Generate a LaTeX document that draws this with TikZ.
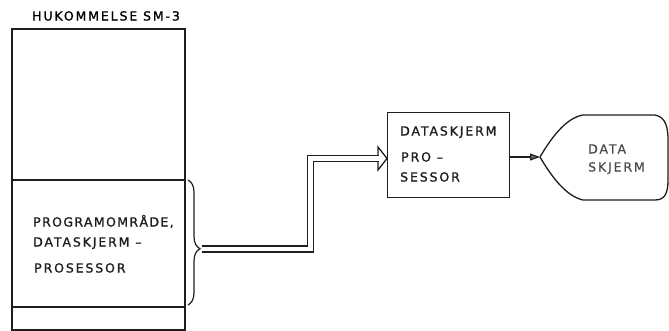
\documentclass[tikz,border=0pt]{standalone}
\usepackage{fontspec}
\newfontfamily\lblfont[LetterSpace=15,FakeBold=1.2]{DejaVu Sans}
\newfontfamily\lblnarrow[LetterSpace=11,FakeBold=1.2]{DejaVu Sans}
\newfontfamily\lbllight[LetterSpace=15,FakeBold=0.5]{DejaVu Sans}
\usetikzlibrary{decorations.pathreplacing,arrows.meta}
\definecolor{ink}{HTML}{1E1E1E}
\definecolor{inkgray}{HTML}{4A4A4A}
\begin{document}
\begin{tikzpicture}[x=1pt,y=-1pt,
  lbl/.style={font=\lblfont\fontsize{12.5}{14}\selectfont, text=ink, inner sep=0pt, anchor=base west},
  lblnar/.style={lbl, font=\lblnarrow\fontsize{12.5}{14}\selectfont},
  lblgray/.style={lbl, font=\lbllight\fontsize{12.5}{14}\selectfont, text=inkgray},
  membox/.style={draw=ink, line width=1.8pt, anchor=north west, minimum width=173pt, inner sep=0pt},
  procbox/.style={draw=ink, line width=1.4pt, anchor=north west, minimum width=122pt, minimum height=85pt, inner sep=0pt},
  thin/.style={draw=ink, line width=1.3pt, line join=miter},
  bigarrow/.style={draw=ink, line width=1.3pt, double=white, double distance=4.7pt, line join=miter},
  smallarrow/.style={draw=ink, line width=1.1pt, -{Triangle[length=10pt,width=7pt,fill=gray!80!black]}}
]
\useasboundingbox (0,0) rectangle (669,330);

% memory
\node[lbl, text=black] (title) at (32,20.5) {HUKOMMELSE SM-3};
\node[membox, minimum height=151pt] (memtop) at (11,28) {};
\node[membox, minimum height=127pt] (prog) at (11,179) {};
\node[membox, minimum height=23pt] (memlow) at (11,306) {};
\node[lblnar] (p1) at (33,226.5) {PROGRAMOMRÅDE,};
\node[lbl] (p2) at (33,246.5) {DATASKJERM –};
\node[lbl] (p3) at (34,272.5) {PROSESSOR};

% brace
\draw[thin, line width=1.2pt, decorate, decoration={brace, amplitude=12pt, aspect=0.55}] (188,180) -- (188,305);
\coordinate (brtip) at (202,249);

% processor box
\node[procbox] (pbox) at (387,112) {};
\node[lbl] (b1) at (400,135.5) {DATASKJERM};
\node[lbl] (b2) at (401,161.5) {PRO –};
\node[lbl] (b3) at (400,181.5) {SESSOR};
\coordinate (ahead) at (387,158.5);

% double arrow
\draw[bigarrow] (brtip) -- ++(108.5,0) |- ([xshift=-8.5pt]ahead);
\draw[thin] ([shift={(-9,-3)}]ahead) -- ([shift={(-9,-11.5)}]ahead) -- (ahead)
  -- ([shift={(-9,11.5)}]ahead) -- ([shift={(-9,3)}]ahead);

% display
\coordinate (disptip) at (540,157);
\draw[thin] (disptip) .. controls (550,140) and (565,118) .. (583,115) -- (655,115)
  .. controls (666,117) and (668,128) .. (668,140) -- (668,180)
  .. controls (668,193) and (665,200) .. (655,200) -- (583,200)
  .. controls (565,196) and (550,174) .. (disptip);
\node[lblgray] (d1) at (588,153.5) {DATA};
\node[lblgray] (d2) at (588,171.5) {SKJERM};

\draw[smallarrow] (pbox.east |- disptip) -- (disptip);
\end{tikzpicture}
\end{document}
